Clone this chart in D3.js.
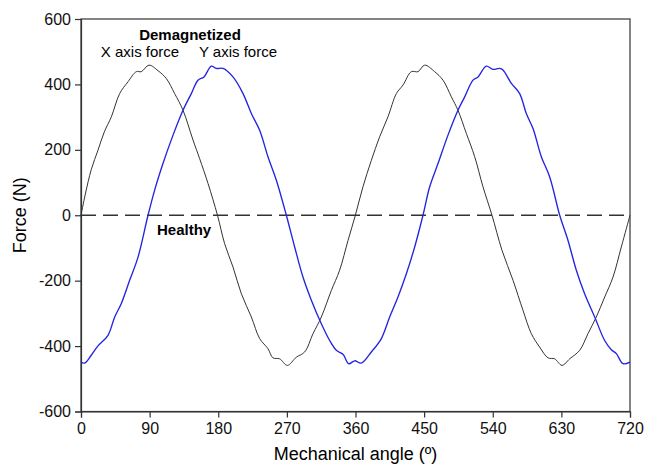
<!DOCTYPE html>
<html>
<head>
<meta charset="utf-8">
<script src="https://cdn.jsdelivr.net/npm/d3@7"></script>
<style>
  body { margin: 0; background: #fff; }
  svg { font-family: "Liberation Sans", Arial, sans-serif; }
</style>
</head>
<body>
<div id="chart"></div>
<script>
const width = 647, height = 466;
const margin = { top: 19, right: 17, bottom: 54.5, left: 81 };

// X axis force (black)
const xForceAngle = [0, 5.7, 13.5, 22.3, 30.6, 39.8, 50.7, 61.6, 72.6, 79.1, 89.2, 101, 111.9, 122.8, 133.8, 146.9, 155.6, 166.6, 179,
  188.4, 199.3, 210.3, 223.4, 234.3, 245.2, 251.8, 260.5, 270.6, 282.4, 293.3, 304.3, 315.2, 328.3, 339.2, 350.2, 359.8,
  369.8, 380.8, 391.7, 402.6, 413.6, 422.3, 433.2, 442, 450.7, 463.8, 474.8, 485.7, 494.4, 505.4, 516.3, 527.2, 539,
  552.1, 566.6, 579.7, 590.6, 601.5, 612.5, 621.2, 630.8, 640.9, 654, 664.9, 675.8, 686.8, 697.7, 708.6, 720];
const xForce = [0, 65, 140, 199, 255, 301, 372, 408, 439, 439, 459, 442, 418, 372, 321, 230, 173, 97, 0,
  -87, -158, -240, -311, -377, -408, -436, -439, -459, -434, -418, -362, -311, -230, -168, -77, 0,
  87, 168, 240, 301, 372, 398, 439, 439, 459, 439, 413, 362, 321, 250, 179, 87, 0,
  -107, -199, -291, -362, -403, -436, -439, -459, -439, -413, -362, -311, -250, -189, -97, 0];

// Y axis force (blue)
const yForceAngle = [0, 4.8, 13.5, 22, 35.4, 44.2, 52.9, 63.8, 74.8, 87.9, 96.6, 107.5, 120.7, 133.8, 144.7, 153.4, 161.3, 170.9, 177.5,
  186.2, 199.3, 212.5, 223.4, 234.3, 245.2, 256.2, 269.3, 280.2, 291.1, 302.1, 315.2, 326.1, 334.9, 343.6, 351, 358.9,
  367.6, 380.8, 393.9, 404.8, 415.7, 426.7, 437.6, 448.5, 457.3, 468.2, 481.3, 494.4, 503.2, 514.1, 520.7, 531.6, 540.3,
  549.1, 553.4, 564.4, 575.3, 584, 592.8, 603.7, 614.7, 627.8, 638.7, 649.6, 660.5, 673.7, 686.8, 695.5, 702.1, 710.8, 720];
const yForce = [-449, -452, -428, -400, -367, -311, -270, -199, -128, 0, 77, 158, 245, 321, 372, 413, 423, 456, 449,
  449, 423, 372, 311, 260, 179, 107, 0, -97, -189, -260, -332, -383, -413, -425, -454, -445,
  -452, -418, -377, -311, -250, -179, -97, 0, 87, 158, 245, 321, 362, 413, 423, 456, 446,
  449, 444, 403, 372, 311, 265, 179, 117, 0, -77, -168, -240, -311, -383, -411, -423, -454, -449];

const xTicks = [0, 90, 180, 270, 360, 450, 540, 630, 720];
const yTicks = [-600, -400, -200, 0, 200, 400, 600];

const innerW = width - margin.left - margin.right;
const innerH = height - margin.top - margin.bottom;

const svg = d3.select("#chart").append("svg")
  .attr("width", width)
  .attr("height", height);

const g = svg.append("g")
  .attr("transform", `translate(${margin.left}, ${margin.top})`);

const x = d3.scaleLinear().domain([0, 720]).range([0, innerW]);
const y = d3.scaleLinear().domain([-600, 600]).range([innerH, 0]);

// frame
g.append("rect")
  .attr("width", innerW)
  .attr("height", innerH)
  .attr("fill", "none")
  .attr("stroke", "#333")
  .attr("stroke-width", 1.2);

const xAxis = g.append("g")
  .attr("transform", `translate(0, ${innerH})`)
  .call(d3.axisBottom(x).tickValues(xTicks).tickSize(6).tickPadding(5).tickFormat(d3.format("d")));

const yAxis = g.append("g")
  .call(d3.axisLeft(y).tickValues(yTicks).tickSize(6).tickPadding(4).tickFormat(d => d));

[xAxis, yAxis].forEach(a => {
  a.select(".domain").attr("stroke", "#333").attr("stroke-width", 1.2);
  a.selectAll(".tick line").attr("stroke", "#333").attr("stroke-width", 1.2);
  a.selectAll(".tick text").attr("fill", "#111").style("font-size", "16px")
    .style("font-family", "Liberation Sans, Arial, sans-serif");
});

// zero (healthy) line
g.append("line")
  .attr("x1", 0).attr("x2", innerW)
  .attr("y1", y(0)).attr("y2", y(0))
  .attr("stroke", "#333")
  .attr("stroke-width", 1.3)
  .attr("stroke-dasharray", "15,7");

const line = d3.line()
  .x(d => x(d[0]))
  .y(d => y(d[1]))
  .curve(d3.curveCatmullRom.alpha(0.5));

g.append("path")
  .datum(xForceAngle.map((a, i) => [a, xForce[i]]))
  .attr("d", line)
  .attr("fill", "none")
  .attr("stroke", "#333")
  .attr("stroke-width", 1);

g.append("path")
  .datum(yForceAngle.map((a, i) => [a, yForce[i]]))
  .attr("d", line)
  .attr("fill", "none")
  .attr("stroke", "#2424e0")
  .attr("stroke-width", 1.35);

// annotations
svg.append("text")
  .attr("x", 190).attr("y", 40)
  .attr("text-anchor", "middle")
  .style("font-size", "15px").style("font-weight", "bold")
  .text("Demagnetized");

svg.append("text")
  .attr("x", 140).attr("y", 57)
  .attr("text-anchor", "middle")
  .style("font-size", "15px")
  .text("X axis force");

svg.append("text")
  .attr("x", 238).attr("y", 57)
  .attr("text-anchor", "middle")
  .style("font-size", "15px")
  .text("Y axis force");

svg.append("text")
  .attr("x", 157).attr("y", 235)
  .style("font-size", "15px").style("font-weight", "bold")
  .text("Healthy");

// axis titles
svg.append("text")
  .attr("x", margin.left + innerW / 2).attr("y", 460)
  .attr("text-anchor", "middle")
  .style("font-size", "18px")
  .text("Mechanical angle (º)");

svg.append("text")
  .attr("transform", `translate(26, ${margin.top + innerH / 2}) rotate(-90)`)
  .attr("text-anchor", "middle")
  .style("font-size", "18px")
  .text("Force (N)");
</script>
</body>
</html>
